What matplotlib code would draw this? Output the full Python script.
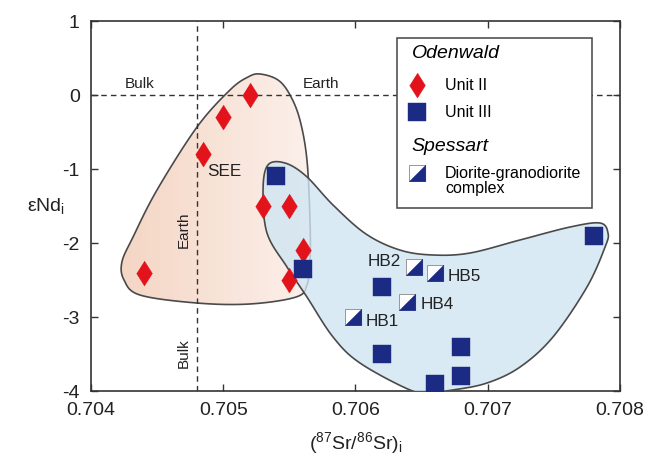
import numpy as np
import matplotlib
matplotlib.use("Agg")
from matplotlib import pyplot as plt
from matplotlib.patches import Polygon, Rectangle
from matplotlib.colors import LinearSegmentedColormap

plt.rcParams['font.family'] = ['Liberation Sans', 'DejaVu Sans']
plt.rcParams['mathtext.fontset'] = 'custom'
plt.rcParams['mathtext.rm'] = 'Liberation Sans'
plt.rcParams['mathtext.it'] = 'Liberation Sans:italic'
plt.rcParams['axes.unicode_minus'] = False

# Odenwald Unit II (diamonds)
unit2_sr = [0.7044, 0.70485, 0.7050, 0.7052, 0.7053, 0.7055, 0.7056, 0.7055]
unit2_nd = [-2.4, -0.8, -0.3, 0.0, -1.5, -1.5, -2.1, -2.5]

# Odenwald Unit III (squares)
unit3_sr = [0.7054, 0.7056, 0.7062, 0.7062, 0.7066, 0.7068, 0.7068, 0.7078]
unit3_nd = [-1.1, -2.35, -2.6, -3.5, -3.9, -3.4, -3.8, -1.9]

# Spessart diorite-granodiorite complex (half filled squares)
hb_names = ["HB1", "HB2", "HB4", "HB5"]
hb_sr = [0.70598, 0.70644, 0.70639, 0.70660]
hb_nd = [-3.0, -2.32, -2.8, -2.41]

# bulk earth reference
bulk_sr = 0.7048
bulk_nd = 0.0

# field outlines (data coords)
red_field_sr = [0.705278, 0.705414, 0.705505, 0.705580, 0.705633, 0.705656, 0.705656,
                0.705633, 0.705550, 0.705202, 0.704802, 0.704371, 0.704250, 0.704234,
                0.704318, 0.704499, 0.704802, 0.705051, 0.705187]
red_field_nd = [0.284, 0.203, 0.0, -0.338, -0.878, -1.689, -2.230,
                -2.568, -2.730, -2.824, -2.811, -2.703, -2.500, -2.257,
                -1.919, -1.284, -0.432, 0.068, 0.243]

blue_field_sr = [0.705338, 0.705467, 0.705626, 0.705830, 0.706079, 0.706336, 0.706586,
                 0.706866, 0.707244, 0.707622, 0.707849, 0.707909, 0.707887, 0.707750,
                 0.707493, 0.707244, 0.706994, 0.706737, 0.706563, 0.706412, 0.706034,
                 0.705830, 0.705633, 0.705482, 0.705331, 0.705301]
blue_field_nd = [-0.946, -0.919, -1.095, -1.486, -1.878, -2.095, -2.162,
                 -2.135, -1.959, -1.784, -1.730, -1.865, -2.054, -2.595,
                 -3.270, -3.676, -3.892, -3.986, -4.014, -3.986, -3.622,
                 -3.270, -2.730, -2.324, -1.865, -1.284]

RED = "#e3131c"
NAVY = "#1b2a82"
EDGE = "#4a4a4a"


def smooth_closed(xs, ys, n=24):
    # closed catmull-rom spline through the outline points
    p = np.column_stack([xs, ys])
    N = len(p)
    t = np.linspace(0, 1, n, endpoint=False)[:, None]
    out = []
    for i in range(N):
        p0, p1, p2, p3 = p[i - 1], p[i], p[(i + 1) % N], p[(i + 2) % N]
        seg = 0.5 * (2 * p1 + (-p0 + p2) * t + (2 * p0 - 5 * p1 + 4 * p2 - p3) * t ** 2
                     + (-p0 + 3 * p1 - 3 * p2 + p3) * t ** 3)
        out.append(seg)
    return np.vstack(out)


diamond = [(0, 1), (0.63, 0), (0, -1), (-0.63, 0)]
lower_tri = [(1, -1), (1, 1), (-1, -1)]

fig = plt.figure(figsize=(6.47, 4.63), dpi=100)
ax = fig.add_axes([0.1406, 0.1555, 0.8177, 0.7991])

# red field with a left-to-right gradient
red_pts = smooth_closed(red_field_sr, red_field_nd)
red_patch = Polygon(red_pts, closed=True, facecolor="none", edgecolor=EDGE, lw=1.2, zorder=2)
ax.add_patch(red_patch)
cmap = LinearSegmentedColormap.from_list("peach", ["#f4d5c3", "#fcf1ec"])
grad = np.linspace(0, 1, 256)[None, :]
im = ax.imshow(grad, extent=[0.7042, 0.7057, -2.9, 0.35], aspect="auto",
               cmap=cmap, zorder=1, origin="lower")
im.set_clip_path(red_patch)

# blue field
blue_pts = smooth_closed(blue_field_sr, blue_field_nd)
ax.add_patch(Polygon(blue_pts, closed=True, facecolor="#d0e5f3", alpha=0.8,
                     edgecolor="none", zorder=3))
ax.add_patch(Polygon(blue_pts, closed=True, facecolor="none", edgecolor=EDGE,
                     lw=1.2, zorder=3))

# bulk earth lines
ax.axhline(bulk_nd, color="#333333", lw=1.0, ls=(0, (4, 3)), zorder=4)
ax.axvline(bulk_sr, color="#333333", lw=1.0, ls=(0, (4, 3)), zorder=4)
ax.text(0.70437, 0.15, "Bulk", fontsize=11, ha="center", va="center", color="#222222")
ax.text(0.7056, 0.15, "Earth", fontsize=11, ha="left", va="center", color="#222222")
ax.text(0.7047, -1.82, "Earth", fontsize=11, rotation=90, ha="center", va="center", color="#222222")
ax.text(0.7047, -3.49, "Bulk", fontsize=11, rotation=90, ha="center", va="center", color="#222222")
ax.text(0.70501, -1.04, "SEE", fontsize=12.3, ha="center", va="center", color="#222222")

# data
ax.plot(unit2_sr, unit2_nd, ls="none", marker=diamond, ms=18, mfc=RED, mec=RED, mew=0.3, zorder=5)
ax.plot(unit3_sr, unit3_nd, ls="none", marker="s", ms=13, mfc=NAVY, mec=NAVY, mew=0.3, zorder=5)
ax.plot(hb_sr, hb_nd, ls="none", marker="s", ms=12, mfc="white", mec="#888888", mew=0.6, zorder=5)
ax.plot(hb_sr, hb_nd, ls="none", marker=lower_tri, ms=12, mfc=NAVY, mec=NAVY, mew=0.3, zorder=6)

hb_offsets = {"HB1": (9, -3, "left"), "HB2": (-9, 4, "right"),
              "HB4": (10, -2, "left"), "HB5": (9, -2, "left")}
for name, x, y in zip(hb_names, hb_sr, hb_nd):
    dx, dy, ha = hb_offsets[name]
    ax.annotate(name, (x, y), xytext=(dx, dy), textcoords="offset points",
                ha=ha, va="center", fontsize=12.3, color="#222222", zorder=6)

# axes
ax.set_xlim(0.704, 0.708)
ax.set_ylim(-4, 1)
ax.set_xticks([0.704, 0.705, 0.706, 0.707, 0.708])
ax.set_xticklabels(["0.704", "0.705", "0.706", "0.707", "0.708"])
ax.set_yticks([-4, -3, -2, -1, 0, 1])
ax.tick_params(direction="in", length=5, width=1, top=True, right=True,
               labelsize=14, colors="#333333", labelcolor="#222222")
ax.tick_params(axis="x", pad=8)
ax.tick_params(axis="y", pad=8)
for s in ax.spines.values():
    s.set_color("#333333")
    s.set_linewidth(1.2)

ax.set_xlabel("($^{87}$Sr/$^{86}$Sr)$_\\mathrm{i}$", fontsize=14, color="#222222")
ax.xaxis.set_label_coords(0.5, -0.1405)
ax.xaxis.label.set_va("center")
ax.set_ylabel("εNd$_\\mathrm{i}$", fontsize=14, rotation=0, color="#222222")
ax.yaxis.set_label_coords(-0.085, 0.5)
ax.yaxis.label.set_va("center")
ax.yaxis.label.set_ha("center")

# legend box drawn by hand
tr = ax.transAxes
ax.add_patch(Rectangle((0.578, 0.494), 0.3685, 0.459, transform=tr, facecolor="white",
                       edgecolor="#444444", lw=1.1, zorder=7))
ax.text(0.606, 0.9127, "Odenwald", transform=tr, fontsize=14, style="italic",
        ha="left", va="center", zorder=8)
ax.plot([0.6157], [0.827], transform=tr, marker=diamond, ms=18, mfc=RED, mec=RED,
        mew=0.3, zorder=8, clip_on=False)
ax.text(0.669, 0.827, "Unit II", transform=tr, fontsize=11.5, ha="left", va="center", zorder=8)
ax.plot([0.6157], [0.7532], transform=tr, marker="s", ms=13, mfc=NAVY, mec=NAVY,
        mew=0.3, zorder=8, clip_on=False)
ax.text(0.669, 0.7532, "Unit III", transform=tr, fontsize=11.5, ha="left", va="center", zorder=8)
ax.text(0.606, 0.6603, "Spessart", transform=tr, fontsize=14, style="italic",
        ha="left", va="center", zorder=8)
ax.plot([0.6157], [0.59], transform=tr, marker="s", ms=12, mfc="white", mec="#888888",
        mew=0.6, zorder=8, clip_on=False)
ax.plot([0.6157], [0.59], transform=tr, marker=lower_tri, ms=12, mfc=NAVY, mec=NAVY,
        mew=0.3, zorder=9, clip_on=False)
ax.text(0.669, 0.5676, "Diorite-granodiorite\ncomplex", transform=tr, fontsize=11.5,
        ha="left", va="center", linespacing=1.05, zorder=8)

fig.savefig("out.png", dpi=100)
